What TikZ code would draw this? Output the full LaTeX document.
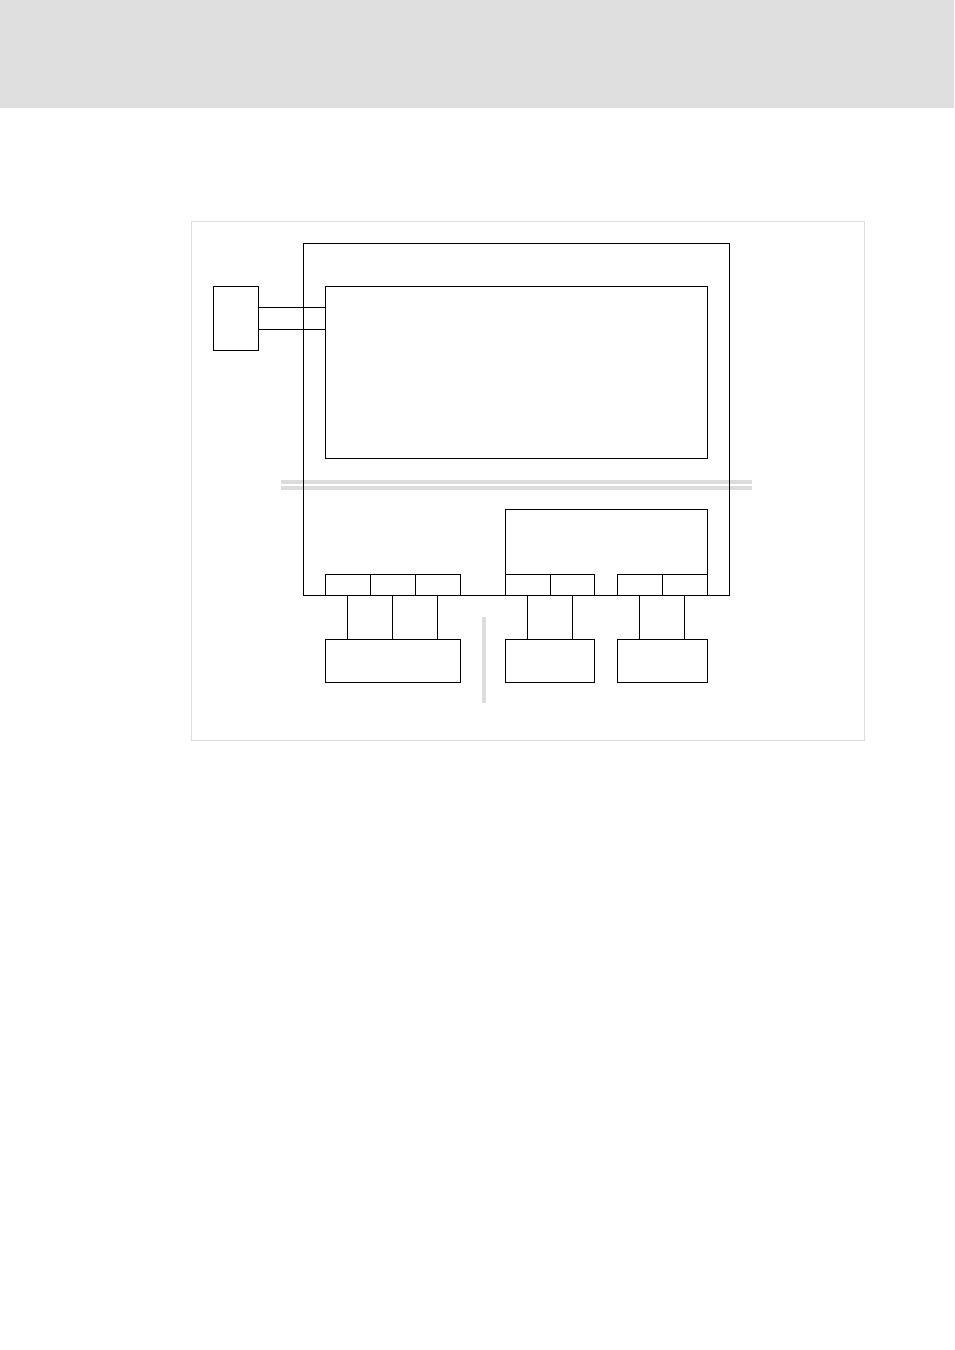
\documentclass[tikz,border=0pt]{standalone}
\usetikzlibrary{fit}
\definecolor{bandgray}{HTML}{DEDEDE}
\definecolor{framegray}{HTML}{DCDCDC}
\tikzset{
  box/.style={draw=black, line width=0.75pt, inner sep=0pt, outer sep=0pt, rectangle},
  openbox/.style={draw=none, inner sep=0pt, outer sep=0pt, rectangle},
  wire/.style={draw=black, line width=0.75pt},
  graybar/.style={fill=framegray, draw=none},
}
\begin{document}
\begin{tikzpicture}[x=0.75pt, y=-0.75pt]
\useasboundingbox (0,0) rectangle (954,1350);
% header band
\fill[bandgray] (0,0) rectangle (954,108);
% figure frame
\node[draw=framegray, line width=0.75pt, inner sep=0pt, fit={(191,221) (864,740)}] (frame) {};
% gray double separator and vertical bar
\fill[graybar] (281,480) rectangle (752,483.5);
\fill[graybar] (281,486) rectangle (752,489.5);
\fill[graybar] (482,617) rectangle (486,703);
% outer housing
\node[box, fit={(303,243) (729,595)}] (outer) {};
% inner main box
\node[box, fit={(325,286) (707,458)}] (inner) {};
% external plug box
\node[box, fit={(213,286) (258,350)}] (plug) {};
\draw[wire] (plug.east |- 0,307) -- (inner.west |- 0,307);
\draw[wire] (plug.east |- 0,329) -- (inner.west |- 0,329);
% right module (open at the bottom, closed by the terminal boxes)
\node[openbox, fit={(505,509) (707,574)}] (module) {};
\draw[wire] (module.south west) -- (module.north west) -- (module.north east) -- (module.south east);
% terminal boxes
\node[box, fit={(325,574) (370,595)}] (t1) {};
\node[box, fit={(370,574) (415,595)}] (t2) {};
\node[box, fit={(415,574) (460,595)}] (t3) {};
\node[box, fit={(505,574) (550,595)}] (t4) {};
\node[box, fit={(550,574) (594,595)}] (t5) {};
\node[box, fit={(617,574) (662,595)}] (t6) {};
\node[box, fit={(662,574) (707,595)}] (t7) {};
% lower boxes
\node[box, fit={(325,639) (460,682)}] (low1) {};
\node[box, fit={(505,639) (594,682)}] (low2) {};
\node[box, fit={(617,639) (707,682)}] (low3) {};
% connectors
\foreach \t in {t1,t2,t3} \draw[wire] (\t.south) -- (\t.south |- low1.north);
\foreach \t in {t4,t5} \draw[wire] (\t.south) -- (\t.south |- low2.north);
\foreach \t in {t6,t7} \draw[wire] (\t.south) -- (\t.south |- low3.north);
\end{tikzpicture}
\end{document}
